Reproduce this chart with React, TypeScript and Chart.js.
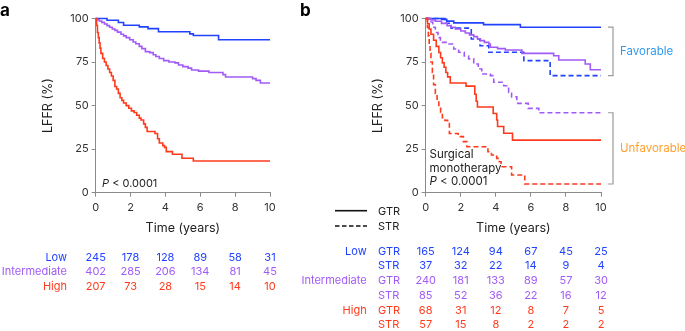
import React, { useEffect, useRef } from 'react';
import { Chart, registerables } from 'chart.js';

Chart.register(...registerables);

const FONT = 'Inter, "Noto Sans", sans-serif';
const C_LOW = '#2143ff';
const C_INT = '#a15bf7';
const C_HIGH = '#ff3a1c';
const C_FAV = '#2f9af0';
const C_UNFAV = '#ffa02e';
const AXIS = '#8a8a8a';

// ---------- Panel a (all patients) ----------
const aLowT = [0, 0.65, 1.3, 1.6, 2.5, 3.0, 3.6, 5.4, 5.6, 7.05, 10];
const aLowS = [100, 99.0, 97.7, 96.1, 95.2, 94.2, 92.4, 91.2, 90.2, 87.8, 87.8];

const aIntT = [0, 0.1, 0.2, 0.35, 0.5, 0.65, 0.8, 0.95, 1.1, 1.25, 1.45, 1.6, 1.75, 1.95, 2.15, 2.3, 2.5, 2.65, 2.85, 3.1, 3.3, 3.45, 3.65, 3.9, 4.2, 4.55, 4.75, 5.0, 5.3, 5.5, 5.9, 6.5, 7.3, 7.45, 9.0, 9.2, 9.45, 10];
const aIntS = [100, 99.3, 98.6, 97.8, 96.8, 95.9, 95.0, 94.0, 93.2, 92.2, 91.0, 90.0, 89.0, 87.8, 86.5, 85.5, 84.0, 82.7, 81.0, 80.4, 79.2, 78.2, 77.0, 75.8, 75.0, 74.5, 73.3, 72.4, 71.5, 70.4, 69.8, 69.0, 67.8, 66.4, 65.5, 64.5, 63.0, 63.0];

const aHighT = [0, 0.05, 0.1, 0.15, 0.2, 0.25, 0.3, 0.4, 0.5, 0.6, 0.7, 0.8, 0.9, 1.0, 1.1, 1.2, 1.3, 1.4, 1.5, 1.6, 1.75, 1.9, 2.05, 2.2, 2.35, 2.5, 2.6, 2.75, 2.85, 2.95, 3.4, 3.55, 3.65, 3.85, 3.95, 4.05, 4.4, 4.95, 5.6, 10];
const aHighS = [100, 96, 92, 89, 86, 83, 80, 77, 75, 73, 71, 69, 67, 64.5, 61, 59.5, 57, 54.5, 53, 51.5, 50, 48.5, 47, 46, 44.5, 42.8, 41.7, 39.5, 37.5, 35.1, 34, 31, 28.5, 27, 26, 23.6, 22.1, 19.8, 18.2, 18.2];

// ---------- Panel b (surgical monotherapy, GTR vs STR) ----------
const bLowGtrT = [0, 0.9, 1.2, 1.6, 3.3, 5.4, 10];
const bLowGtrS = [100, 99.5, 98.5, 97.5, 96.5, 95.0, 95.0];

const bLowStrT = [0, 1.1, 1.45, 2.6, 3.1, 3.6, 5.6, 7.1, 10];
const bLowStrS = [100, 97.3, 94.5, 88.2, 84.4, 80.6, 75.8, 67.2, 67.2];

const bIntGtrT = [0, 0.3, 0.55, 0.9, 1.22, 1.45, 1.69, 2.0, 2.26, 2.5, 2.74, 2.95, 3.12, 3.35, 3.6, 3.69, 4.1, 4.54, 5.49, 7.3, 7.59, 9.1, 9.39, 10];
const bIntGtrS = [100, 99.2, 98.4, 97.2, 95.9, 95.0, 94.0, 92.8, 91.7, 90.6, 89.6, 88.4, 87.3, 86.3, 85.4, 83.5, 82.7, 81.9, 80.0, 78.6, 76.2, 73.9, 70.6, 70.6];

const bIntStrT = [0, 0.2, 0.4, 0.55, 0.7, 0.84, 1.22, 1.6, 1.88, 2.2, 2.45, 2.74, 3.0, 3.2, 3.69, 3.88, 4.45, 4.73, 4.9, 5.2, 5.85, 6.45, 10];
const bIntStrS = [100, 98, 95, 92, 89, 86.3, 85.4, 82.5, 80.6, 78.5, 76.8, 73.9, 71, 68.1, 67.2, 63.4, 61.4, 57.6, 55.0, 51.3, 48.4, 45.9, 45.9];

const bHighGtrT = [0, 0.1, 0.2, 0.3, 0.45, 0.6, 0.75, 0.85, 0.95, 1.05, 1.15, 1.25, 1.4, 2.3, 2.8, 2.88, 2.95, 3.85, 4.05, 4.1, 4.45, 4.95, 10];
const bHighGtrS = [100, 97, 94, 91, 87.5, 84, 80.5, 77.5, 74.5, 72, 69, 66.5, 63, 61.2, 56.5, 52.5, 49.2, 45.5, 41.7, 38, 34.1, 30.2, 30.2];

const bHighStrT = [0, 0.1, 0.15, 0.2, 0.25, 0.3, 0.38, 0.45, 0.55, 0.65, 0.75, 0.85, 0.95, 1.1, 1.25, 1.35, 1.85, 2.15, 2.35, 3.55, 3.75, 4.05, 4.2, 4.3, 4.9, 5.65, 10];
const bHighStrS = [100, 95, 90, 85, 80, 75, 69, 62, 57, 53, 49.5, 46, 43, 41.5, 39.7, 34, 32.2, 29.3, 26.4, 23.5, 21.6, 19.7, 17.8, 14.9, 10.2, 5.0, 5.0];

// ---------- Numbers at risk ----------
const riskTimes = [0, 2, 4, 6, 8, 10];
const aRiskLow = [245, 178, 128, 89, 58, 31];
const aRiskInt = [402, 285, 206, 134, 81, 45];
const aRiskHigh = [207, 73, 28, 15, 14, 10];
const bRiskLowGtr = [165, 124, 94, 67, 45, 25];
const bRiskLowStr = [37, 32, 22, 14, 9, 4];
const bRiskIntGtr = [240, 181, 133, 89, 57, 30];
const bRiskIntStr = [85, 52, 36, 22, 16, 12];
const bRiskHighGtr = [68, 31, 12, 8, 7, 5];
const bRiskHighStr = [57, 15, 8, 2, 2, 2];

const groupLabels = ['Low', 'Intermediate', 'High'];
const resectionLabels = ['GTR', 'STR'];
const bracketLabels = ['Favorable', 'Unfavorable'];

// layout constants
const CANVAS_H = 240;
const PLOT_TOP = 18.5;
const PLOT_BOTTOM = 192.7;
const Y_AXIS_W = 95.7;
const A_LEFT = 0;
const A_W = 300;
const A_PLOT_RIGHT = 270;
const B_LEFT = 330;
const B_W = 355;
const B_PLOT_RIGHT = 601;

const toPts = (t: number[], s: number[]) => t.map((x, i) => ({ x, y: s[i] }));

const line = (t: number[], s: number[], color: string, dashed: boolean) => ({
  data: toPts(t, s),
  borderColor: color,
  backgroundColor: color,
  borderWidth: 1.6,
  borderDash: dashed ? [5, 3] : [],
  stepped: 'before' as const,
  pointRadius: 0,
  fill: false,
  clip: 5,
});

const bracketPlugin = {
  id: 'brackets',
  afterDraw(chart: any) {
    const { ctx, chartArea, scales } = chart;
    const y = scales.y;
    const x = chartArea.right + 12;
    const groups = [
      { top: bLowGtrS[bLowGtrS.length - 1], bottom: bLowStrS[bLowStrS.length - 1], label: bracketLabels[0], color: C_FAV },
      { top: bIntStrS[bIntStrS.length - 1], bottom: bHighStrS[bHighStrS.length - 1], label: bracketLabels[1], color: C_UNFAV },
    ];
    ctx.save();
    groups.forEach((g) => {
      const y1 = y.getPixelForValue(g.top);
      const y2 = y.getPixelForValue(g.bottom);
      ctx.strokeStyle = '#9a9a9a';
      ctx.lineWidth = 1.2;
      ctx.setLineDash([]);
      ctx.beginPath();
      ctx.moveTo(x - 5, y1);
      ctx.lineTo(x, y1);
      ctx.lineTo(x, y2);
      ctx.lineTo(x - 5, y2);
      ctx.stroke();
      ctx.fillStyle = g.color;
      ctx.font = `11.5px ${FONT}`;
      ctx.textBaseline = 'middle';
      ctx.textAlign = 'left';
      ctx.fillText(g.label, x + 7, (y1 + y2) / 2);
    });
    ctx.restore();
  },
};

function KMPanel(props: { left: number; width: number; plotRight: number; datasets: any[]; plugins?: any[] }) {
  const ref = useRef<HTMLCanvasElement | null>(null);
  useEffect(() => {
    if (!ref.current) return;
    const tickFont = { family: FONT, size: 11 };
    const titleFont = { family: FONT, size: 12.5 };
    const chart = new Chart(ref.current, {
      type: 'line',
      data: { datasets: props.datasets },
      options: {
        responsive: false,
        animation: false,
        devicePixelRatio: 1,
        layout: { padding: { left: 0, right: props.left + props.width - props.plotRight, top: PLOT_TOP, bottom: 0 } },
        plugins: { legend: { display: false }, tooltip: { enabled: false } },
        scales: {
          x: {
            type: 'linear',
            min: 0,
            max: 10,
            ticks: { stepSize: 2, padding: 4, color: '#333', font: tickFont, maxRotation: 0 },
            grid: { drawOnChartArea: false, drawTicks: true, tickLength: 4, color: AXIS },
            border: { color: AXIS, width: 1 },
            title: { display: true, text: 'Time (years)', color: '#222', font: titleFont, padding: { top: 0, bottom: 4.5 } },
            afterFit: (s: any) => {
              s.height = CANVAS_H - PLOT_BOTTOM;
            },
          },
          y: {
            type: 'linear',
            min: 0,
            max: 100,
            ticks: { stepSize: 25, padding: 3, color: '#333', font: tickFont },
            grid: { drawOnChartArea: false, drawTicks: true, tickLength: 4, color: AXIS },
            border: { color: AXIS, width: 1 },
            title: { display: true, text: 'LFFR (%)', color: '#222', font: titleFont, padding: { top: 40.5, bottom: 0 } },
            afterFit: (s: any) => {
              s.width = Y_AXIS_W;
            },
          },
        },
      } as any,
      plugins: props.plugins || [],
    });
    return () => chart.destroy();
  }, []);
  return (
    <canvas
      ref={ref}
      width={props.width}
      height={CANVAS_H}
      style={{ position: 'absolute', left: props.left, top: 0, width: props.width, height: CANVAS_H }}
    />
  );
}

function Txt(props: { x: number; y: number; align?: 'left' | 'center' | 'right'; color?: string; size?: number; bold?: boolean; children: any }) {
  const tx = props.align === 'center' ? '-50%' : props.align === 'right' ? '-100%' : '0';
  return (
    <div
      style={{
        position: 'absolute',
        left: props.x,
        top: props.y,
        transform: `translate(${tx}, -50%)`,
        whiteSpace: 'nowrap',
        fontFamily: FONT,
        fontSize: props.size || 11,
        lineHeight: 1,
        fontWeight: props.bold ? 700 : 400,
        color: props.color || '#222',
      }}
    >
      {props.children}
    </div>
  );
}

export default function App() {
  const aPlotW = A_PLOT_RIGHT - (A_LEFT + Y_AXIS_W);
  const bPlotW = B_PLOT_RIGHT - (B_LEFT + Y_AXIS_W);
  const ax = (t: number) => A_LEFT + Y_AXIS_W + (t / 10) * aPlotW;
  const bx = (t: number) => B_LEFT + Y_AXIS_W + (t / 10) * bPlotW;

  const aDatasets = [
    line(aHighT, aHighS, C_HIGH, false),
    line(aIntT, aIntS, C_INT, false),
    line(aLowT, aLowS, C_LOW, false),
  ];
  const bDatasets = [
    line(bHighStrT, bHighStrS, C_HIGH, true),
    line(bHighGtrT, bHighGtrS, C_HIGH, false),
    line(bIntStrT, bIntStrS, C_INT, true),
    line(bIntGtrT, bIntGtrS, C_INT, false),
    line(bLowStrT, bLowStrS, C_LOW, true),
    line(bLowGtrT, bLowGtrS, C_LOW, false),
  ];

  const aRows = [
    { label: groupLabels[0], vals: aRiskLow, color: C_LOW },
    { label: groupLabels[1], vals: aRiskInt, color: C_INT },
    { label: groupLabels[2], vals: aRiskHigh, color: C_HIGH },
  ];
  const bRows = [
    { group: groupLabels[0], res: resectionLabels[0], vals: bRiskLowGtr, color: C_LOW },
    { group: '', res: resectionLabels[1], vals: bRiskLowStr, color: C_LOW },
    { group: groupLabels[1], res: resectionLabels[0], vals: bRiskIntGtr, color: C_INT },
    { group: '', res: resectionLabels[1], vals: bRiskIntStr, color: C_INT },
    { group: groupLabels[2], res: resectionLabels[0], vals: bRiskHighGtr, color: C_HIGH },
    { group: '', res: resectionLabels[1], vals: bRiskHighStr, color: C_HIGH },
  ];

  return (
    <div style={{ position: 'absolute', left: 0, top: 0, width: 685, height: 331, background: '#fff', overflow: 'hidden' }}>
      <KMPanel left={A_LEFT} width={A_W} plotRight={A_PLOT_RIGHT} datasets={aDatasets} />
      <KMPanel left={B_LEFT} width={B_W} plotRight={B_PLOT_RIGHT} datasets={bDatasets} plugins={[bracketPlugin]} />

      <div style={{ position: 'absolute', left: 0, top: 2, fontFamily: FONT, fontSize: 17, fontWeight: 700, lineHeight: 1, color: '#000' }}>a</div>
      <div style={{ position: 'absolute', left: 300, top: 2, fontFamily: FONT, fontSize: 17, fontWeight: 700, lineHeight: 1, color: '#000' }}>b</div>

      <Txt x={102} y={183} size={11}>
        <i>P</i> &lt; 0.0001
      </Txt>
      <Txt x={429.5} y={154.5} size={11.5}>Surgical</Txt>
      <Txt x={429.5} y={168.5} size={11.5}>monotherapy</Txt>
      <Txt x={429.5} y={182} size={11.5}>
        <i>P</i> &lt; 0.0001
      </Txt>

      {/* legend */}
      <svg style={{ position: 'absolute', left: 333, top: 203, overflow: 'visible' }} width={40} height={30}>
        <line x1={2} y1={7.7} x2={34} y2={7.7} stroke="#111" strokeWidth={1.6} />
        <line x1={2} y1={23} x2={34} y2={23} stroke="#111" strokeWidth={1.6} strokeDasharray="4.5 2.5" />
      </svg>
      <Txt x={378} y={211}>{resectionLabels[0]}</Txt>
      <Txt x={378} y={226}>{resectionLabels[1]}</Txt>

      {/* risk table a */}
      {aRows.map((r, i) => (
        <React.Fragment key={'a' + i}>
          <Txt x={67} y={256.7 + i * 14.65} align="right" color={r.color}>{r.label}</Txt>
          {r.vals.map((v, j) => (
            <Txt key={j} x={ax(riskTimes[j])} y={256.7 + i * 14.65} align="center" color={r.color}>{v}</Txt>
          ))}
        </React.Fragment>
      ))}

      {/* risk table b */}
      {bRows.map((r, i) => (
        <React.Fragment key={'b' + i}>
          {r.group ? (
            <Txt x={366.7} y={250.7 + i * 14.7} align="right" color={r.color}>{r.group}</Txt>
          ) : null}
          <Txt x={378} y={250.7 + i * 14.7} color={r.color}>{r.res}</Txt>
          {r.vals.map((v, j) => (
            <Txt key={j} x={bx(riskTimes[j])} y={250.7 + i * 14.7} align="center" color={r.color}>{v}</Txt>
          ))}
        </React.Fragment>
      ))}
    </div>
  );
}
